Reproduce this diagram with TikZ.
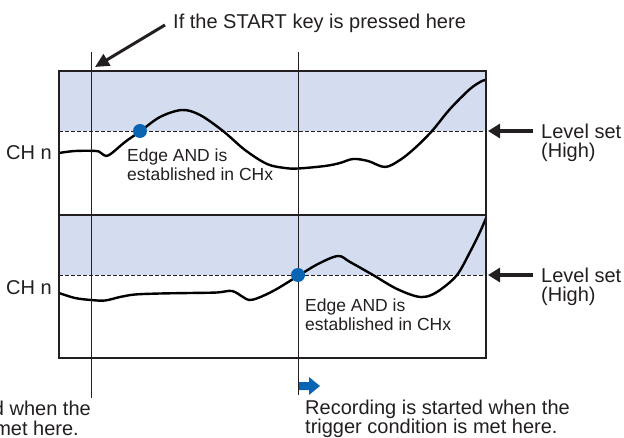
\documentclass[tikz,border=0pt]{standalone}
\usepackage{fontspec}
\setmainfont{Liberation Sans}
\usetikzlibrary{arrows.meta}
\definecolor{hishade}{RGB}{212,220,239}
\definecolor{dotblue}{RGB}{10,100,180}
\definecolor{ink}{RGB}{35,31,32}
\begin{document}
\begin{tikzpicture}[x=1pt,y=-1pt,
  big/.style={font=\fontsize{20}{20}\selectfont, inner sep=0pt, text=ink},
  small/.style={font=\fontsize{17.5}{17.5}\selectfont, inner sep=0pt, text=ink},
  frame/.style={draw=ink, line width=1.3pt},
  marker/.style={draw=ink, line width=0.9pt},
  levelline/.style={draw=ink, line width=0.8pt, dash pattern=on 3.5pt off 2.5pt},
  wave/.style={draw=black, line width=2.4pt, line join=round, line cap=round},
  ptr/.style={draw=ink, line width=3.5pt, -{Triangle[length=12pt,width=14pt]}},
  startptr/.style={draw=ink, line width=3pt, -{Triangle[length=14pt,width=13pt]}},
  edgedot/.style={fill=dotblue, circle, inner sep=0pt, minimum size=14pt}
]
\useasboundingbox (0,0) rectangle (624,438);
\clip (0,0) rectangle (624,438);

% shaded high regions
\fill[hishade] (59,71) rectangle (486,131);
\fill[hishade] (59,215) rectangle (486,275);
\draw[levelline] (59,131) -- (486,131);
\draw[levelline] (59,275) -- (486,275);

% waveforms
\draw[wave] plot[smooth, tension=0.55] coordinates {(59,153) (75,151) (96,151) (101,153) (106,156) (112,153) (125,142) (140,131.5) (160,117) (182,110) (200,115) (223,131) (245,150) (267,164) (285,168) (298,168.5) (325,166) (340,163) (353,159) (368,161) (385,167) (400,160) (415,148) (432,131) (450,109) (470,89) (482,81) (486,80)};
\draw[wave] plot[smooth, tension=0.55] coordinates {(59,293) (75,298) (91,300) (105,300.5) (120,297) (135,294.5) (160,293.5) (190,293) (217,292.5) (232,291) (243,297) (249,300) (258,298) (275,290) (298,276) (318,264) (338,256) (350,262) (373,275) (395,288) (415,296) (427,296.5) (440,290) (457,275) (470,252) (480,232) (486,218)};

% frames
\draw[frame] (59,71) rectangle (486,215);
\draw[frame] (59,215) rectangle (486,358);

% marker lines
\coordinate (m1t) at (91,52);
\coordinate (m1b) at (91,398);
\coordinate (m2t) at (298,52);
\coordinate (m2b) at (298,395);
\draw[marker] (m1t) -- (m1b);
\draw[marker] (m2t) -- (m2b);

% edge dots
\node[edgedot] (d1) at (140,131) {};
\node[edgedot] (d2) at (298,275) {};

% START arrow
\node[big, anchor=base west] (start) at (173,29) {If the START key is pressed here};
\coordinate (s1) at (165,25);
\coordinate (s2) at (95,67);
\draw[startptr] (s1) -- (s2);

% channel labels
\node[big, anchor=base east] (ch1) at (52,160) {CH n};
\node[big, anchor=base east] (ch2) at (52,295) {CH n};

% edge labels
\node[small, anchor=base west] (e1a) at (127,162) {Edge AND is};
\node[small, anchor=base west] (e1b) at (127,181) {established in CHx};
\node[small, anchor=base west] (e2a) at (305,312) {Edge AND is};
\node[small, anchor=base west] (e2b) at (305,331) {established in CHx};

% level set arrows and labels
\coordinate (l1s) at (533,131);
\coordinate (l1e) at (488,131);
\coordinate (l2s) at (533,275);
\coordinate (l2e) at (488,275);
\draw[ptr] (l1s) -- (l1e);
\draw[ptr] (l2s) -- (l2e);
\node[big, anchor=base west] (lv1a) at (541,139) {Level set};
\node[big, anchor=base west] (lv1b) at (541,158) {(High)};
\node[big, anchor=base west] (lv2a) at (541,283) {Level set};
\node[big, anchor=base west] (lv2b) at (541,302) {(High)};

% blue start arrow
\fill[dotblue] (299,382) -- (309,382) -- (309,377) -- (320,386) -- (309,395) -- (309,390) -- (299,390) -- cycle;

% bottom texts
\node[big, anchor=base west] (r1) at (305,414) {Recording is started when the};
\node[big, anchor=base west] (r2) at (305,433) {trigger condition is met here.};
\node[big, anchor=base east] (n1) at (91,415) {d when the};
\node[big, anchor=base east] (n2) at (79,435) {met here.};
\end{tikzpicture}
\end{document}
